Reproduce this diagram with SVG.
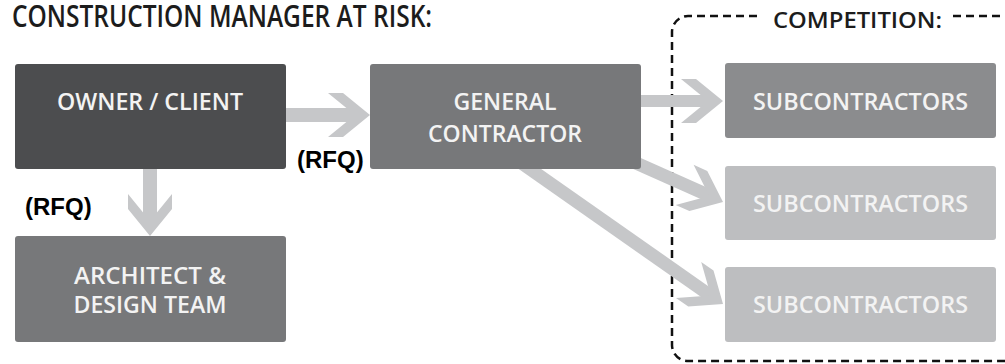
<svg xmlns="http://www.w3.org/2000/svg" width="1005" height="364" viewBox="0 0 1005 364">
<defs>
<style>
.box{stroke:none}
.lbl{font-family:"Open Sans","Liberation Sans",sans-serif;font-weight:600;font-size:23px;fill:#f3f3f3;text-anchor:middle}
.title{font-family:"Open Sans","Liberation Sans",sans-serif;font-weight:600;font-size:31px;fill:#1c1c1c}
.comp{font-family:"Open Sans","Liberation Sans",sans-serif;font-weight:600;font-size:21px;fill:#1c1c1c}
.rfq{font-family:"Liberation Sans",Arial,sans-serif;font-weight:bold;font-size:24px;fill:#000}
.shaft{stroke:#c6c7c9;stroke-width:13;fill:none}
.head{fill:#c6c7c9}
.dash{fill:none;stroke:#111;stroke-width:2.5;stroke-dasharray:8 5}
</style>
<path id="chev" d="M-42,-22 L-27,-22 L0,0 L-27,22 L-42,22 L-15,0 Z"/>
</defs>
<rect width="1005" height="364" fill="#ffffff"/>

<text class="title" x="12" y="27" textLength="420" lengthAdjust="spacingAndGlyphs">CONSTRUCTION MANAGER AT RISK:</text>

<g id="competition">
<path class="dash" d="M757,16 H688 A16,16 0 0 0 672,32 V345 A16,16 0 0 0 688,361 H1005"/>
<path class="dash" d="M953,16 H1005"/>
<text class="comp" x="773" y="28" textLength="169" lengthAdjust="spacingAndGlyphs">COMPETITION:</text>
</g>

<g id="connectors">
<line class="shaft" x1="286" y1="115" x2="356" y2="115" style="stroke-width:14"/>
<use href="#chev" class="head" transform="translate(370,115)"/>
<line class="shaft" x1="150" y1="169" x2="150" y2="222" style="stroke-width:14"/>
<use href="#chev" class="head" transform="translate(150,236) rotate(90)"/>
<line class="shaft" x1="641" y1="101" x2="709" y2="101" style="stroke-width:12"/>
<use href="#chev" class="head" transform="translate(723,101)"/>
<line class="shaft" x1="618" y1="155" x2="710" y2="196"/>
<use href="#chev" class="head" transform="translate(723,202) rotate(24)"/>
<line class="shaft" x1="510" y1="155" x2="711" y2="296"/>
<use href="#chev" class="head" transform="translate(723,304) rotate(35)"/>
</g>

<g id="owner">
<rect class="box" x="15" y="64" width="271" height="105" rx="3" fill="#4c4d4f"/>
<text class="lbl" x="150" y="110" textLength="186" lengthAdjust="spacingAndGlyphs">OWNER / CLIENT</text>
</g>

<g id="architect">
<rect class="box" x="15" y="236" width="271" height="106" rx="3" fill="#77787a"/>
<text class="lbl" x="150" y="284" textLength="152" lengthAdjust="spacingAndGlyphs">ARCHITECT &amp;</text>
<text class="lbl" x="150" y="313" textLength="153" lengthAdjust="spacingAndGlyphs">DESIGN TEAM</text>
</g>

<g id="general-contractor">
<rect class="box" x="370" y="64" width="271" height="105" rx="3" fill="#77787a"/>
<text class="lbl" x="505" y="110" textLength="103" lengthAdjust="spacingAndGlyphs">GENERAL</text>
<text class="lbl" x="505" y="142" textLength="154" lengthAdjust="spacingAndGlyphs">CONTRACTOR</text>
</g>

<g id="sub1">
<rect class="box" x="725" y="63" width="271" height="75" rx="3" fill="#8b8c8e"/>
<text class="lbl" x="860.5" y="110" textLength="215" lengthAdjust="spacingAndGlyphs">SUBCONTRACTORS</text>
</g>

<g id="sub2">
<rect class="box" x="725" y="166" width="271" height="74" rx="3" fill="#bdbec0"/>
<text class="lbl" x="860.5" y="212" textLength="215" lengthAdjust="spacingAndGlyphs">SUBCONTRACTORS</text>
</g>

<g id="sub3">
<rect class="box" x="725" y="267" width="271" height="75" rx="3" fill="#bdbec0"/>
<text class="lbl" x="860.5" y="313" textLength="215" lengthAdjust="spacingAndGlyphs">SUBCONTRACTORS</text>
</g>

<g id="labels">
<text class="rfq" x="297" y="168">(RFQ)</text>
<text class="rfq" x="25" y="215">(RFQ)</text>
</g>
</svg>
